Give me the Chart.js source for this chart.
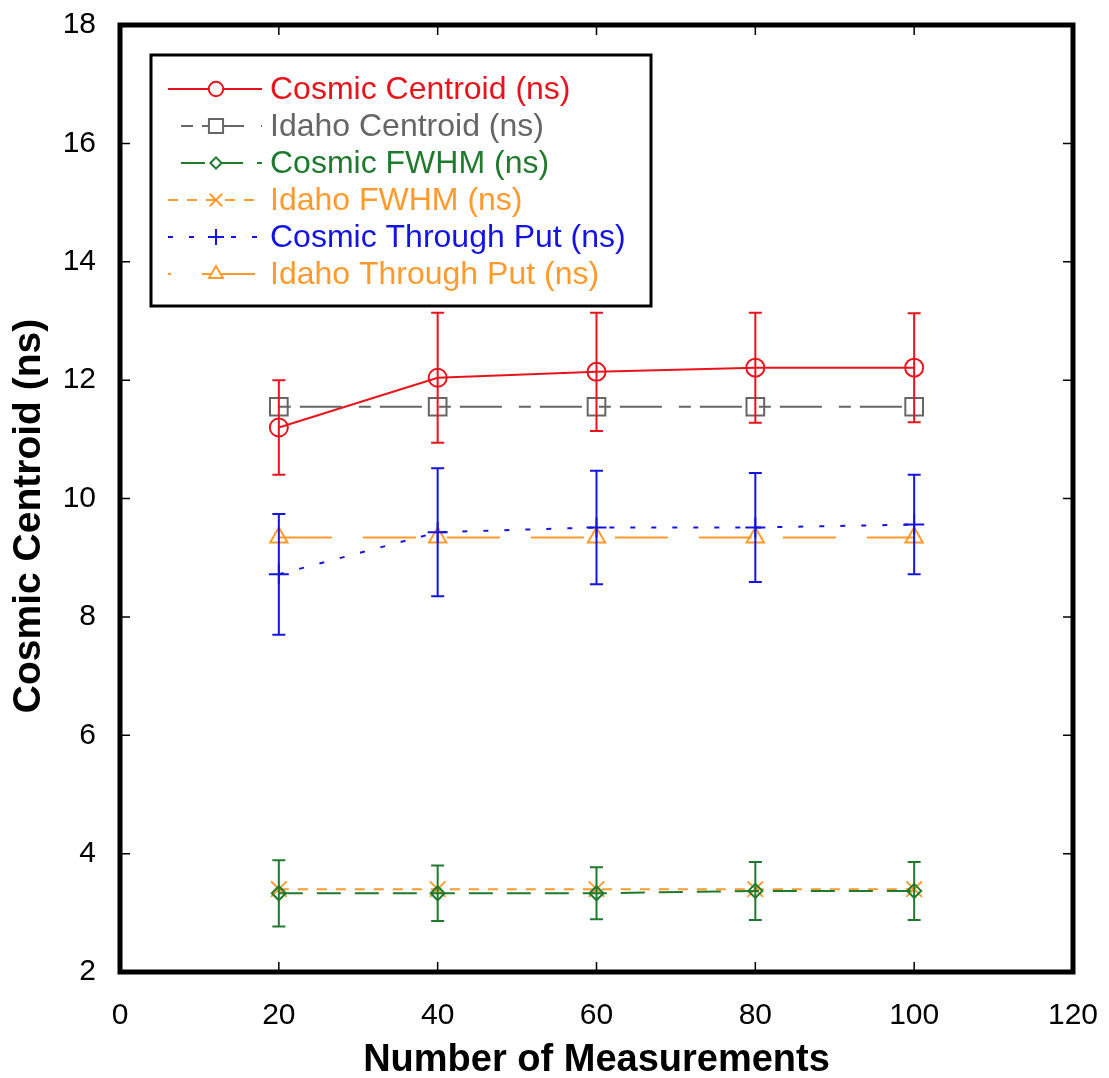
<!DOCTYPE html>
<html>
<head>
<meta charset="utf-8">
<script src="https://cdn.jsdelivr.net/npm/chart.js@4.4.1/dist/chart.umd.min.js"></script>
<style>
  html, body { margin: 0; padding: 0; background: #fff; }
  #wrap { width: 1109px; height: 1078px; }
</style>
</head>
<body>
<div id="wrap"><canvas id="chart"></canvas></div>
<script>
// values
const measurements = [20, 40, 60, 80, 100];
const cosmicCentroid = [11.2, 12.04, 12.14, 12.21, 12.21];
const cosmicCentroidErr = [0.8, 1.1, 1.0, 0.93, 0.92];
const idahoCentroid = [11.55, 11.55, 11.55, 11.55, 11.55];
const cosmicFwhm = [3.33, 3.33, 3.33, 3.37, 3.37];
const cosmicFwhmErr = [0.56, 0.47, 0.44, 0.49, 0.49];
const idahoFwhm = [3.4, 3.4, 3.4, 3.4, 3.4];
const cosmicThroughput = [8.72, 9.43, 9.51, 9.51, 9.56];
const cosmicThroughputErr = [1.02, 1.08, 0.96, 0.92, 0.84];
const idahoThroughput = [9.34, 9.34, 9.34, 9.34, 9.34];

const xTicks = [0, 20, 40, 60, 80, 100, 120];
const yTicks = [2, 4, 6, 8, 10, 12, 14, 16, 18];

const xTitle = "Number of Measurements";
const yTitle = "Cosmic Centroid (ns)";

const FONT = "Arial, 'Liberation Sans', sans-serif";

const toPoints = (vals) => vals.map((v, i) => ({ x: measurements[i], y: v }));

const series = [
  { label: "Cosmic Centroid (ns)", data: cosmicCentroid, err: cosmicCentroidErr,
    color: "#e8141c", dash: [], legendOffset: 0, point: "circle", r: 9 },
  { label: "Idaho Centroid (ns)", data: idahoCentroid, err: null,
    color: "#666666", dash: [12, 9, 42, 17], legendOffset: 67, point: "rect", r: 12.5 },
  { label: "Cosmic FWHM (ns)", data: cosmicFwhm, err: cosmicFwhmErr,
    color: "#1f7a2e", dash: [24, 14], legendOffset: 25, point: "rectRot", r: 7 },
  { label: "Idaho FWHM (ns)", data: idahoFwhm, err: null,
    color: "#ff9a2e", dash: [10, 9], legendOffset: 0, point: "crossRot", r: 11 },
  { label: "Cosmic Through Put (ns)", data: cosmicThroughput, err: cosmicThroughputErr,
    color: "#1414e0", dash: [5, 16], legendOffset: 0, point: "cross", r: 10 },
  { label: "Idaho Through Put (ns)", data: idahoThroughput, err: null,
    color: "#ff9a2e", dash: [53, 31], legendOffset: 50, point: "triangle", r: 10 }
];

const datasets = series.map(s => ({
  label: s.label,
  data: toPoints(s.data),
  err: s.err,
  legendOffset: s.legendOffset,
  borderColor: s.color,
  backgroundColor: "transparent",
  borderWidth: 2,
  borderDash: s.dash,
  pointStyle: s.point,
  pointRadius: s.r,
  pointBorderColor: s.color,
  pointBackgroundColor: "transparent",
  pointBorderWidth: 2,
  tension: 0,
  fill: false
}));

// error bars, drawn through the scales
const errorBars = {
  id: "errorBars",
  afterDatasetsDraw(chart) {
    const { ctx, scales: { x, y } } = chart;
    chart.data.datasets.forEach(ds => {
      if (!ds.err) return;
      ctx.save();
      ctx.strokeStyle = ds.borderColor;
      ctx.lineWidth = 2;
      ds.data.forEach((p, i) => {
        const px = x.getPixelForValue(p.x);
        const top = y.getPixelForValue(p.y + ds.err[i]);
        const bot = y.getPixelForValue(p.y - ds.err[i]);
        ctx.beginPath();
        ctx.moveTo(px, top); ctx.lineTo(px, bot);
        ctx.moveTo(px - 6.5, top); ctx.lineTo(px + 6.5, top);
        ctx.moveTo(px - 6.5, bot); ctx.lineTo(px + 6.5, bot);
        ctx.stroke();
      });
      ctx.restore();
    });
  }
};

// thick frame with inward ticks on all four sides, plus the y title
const frame = {
  id: "frame",
  afterDraw(chart) {
    const { ctx, chartArea: a, scales: { x, y } } = chart;
    ctx.save();
    ctx.strokeStyle = "#000";
    ctx.lineWidth = 1.5;
    ctx.beginPath();
    x.ticks.forEach(t => {
      const px = x.getPixelForValue(t.value);
      ctx.moveTo(px, a.bottom); ctx.lineTo(px, a.bottom - 10);
      ctx.moveTo(px, a.top); ctx.lineTo(px, a.top + 10);
    });
    y.ticks.forEach(t => {
      const py = y.getPixelForValue(t.value);
      ctx.moveTo(a.left, py); ctx.lineTo(a.left + 10, py);
      ctx.moveTo(a.right, py); ctx.lineTo(a.right - 10, py);
    });
    ctx.stroke();
    ctx.lineWidth = 5;
    ctx.strokeRect(a.left, a.top, a.right - a.left, a.bottom - a.top);

    // y axis title, a little below the middle as in the source
    ctx.translate(29, 516);
    ctx.rotate(-Math.PI / 2);
    ctx.fillStyle = "#000";
    ctx.font = "bold 39px " + FONT;
    ctx.textAlign = "center";
    ctx.textBaseline = "middle";
    ctx.fillText(yTitle, 0, 0);
    ctx.restore();
  }
};

// boxed legend inside the plot
const boxLegend = {
  id: "boxLegend",
  afterDraw(chart) {
    const { ctx } = chart;
    const bx = 151, by = 55, bw = 500, bh = 251;
    ctx.save();
    ctx.fillStyle = "#fff";
    ctx.fillRect(bx, by, bw, bh);
    ctx.strokeStyle = "#000";
    ctx.lineWidth = 3;
    ctx.strokeRect(bx, by, bw, bh);
    ctx.font = "32px " + FONT;
    ctx.textBaseline = "middle";
    chart.data.datasets.forEach((ds, i) => {
      const ry = 89 + i * 37;
      ctx.strokeStyle = ds.borderColor;
      ctx.lineWidth = 2;
      ctx.setLineDash(ds.borderDash);
      ctx.lineDashOffset = ds.legendOffset;
      ctx.beginPath();
      ctx.moveTo(168, ry); ctx.lineTo(262, ry);
      ctx.stroke();
      ctx.setLineDash([]);
      ctx.lineDashOffset = 0;
      ctx.fillStyle = "#fff";
      Chart.helpers.drawPoint(ctx, {
        pointStyle: ds.pointStyle, radius: ds.pointRadius * 0.8,
        borderWidth: 2, rotation: 0
      }, 216, ry);
      ctx.fillStyle = ds.borderColor;
      ctx.fillText(ds.label, 270, ry + 1);
    });
    ctx.restore();
  }
};

new Chart(document.getElementById("chart"), {
  type: "line",
  data: { datasets },
  options: {
    responsive: true,
    maintainAspectRatio: false,
    animation: false,
    layout: { padding: { top: 25, right: 36, left: 0, bottom: 0 } },
    plugins: { legend: { display: false }, tooltip: { enabled: false } },
    scales: {
      x: {
        type: "linear",
        min: xTicks[0], max: xTicks[xTicks.length - 1],
        afterFit(s) { s.height = 106; s.paddingLeft = 0; s.paddingRight = 0; },
        ticks: { stepSize: xTicks[1] - xTicks[0], color: "#000", padding: 26,
                 font: { family: FONT, size: 30 } },
        grid: { display: false, drawTicks: false },
        border: { display: false },
        title: { display: true, text: xTitle, color: "#000",
                 font: { family: FONT, size: 38, weight: "bold", lineHeight: 0.9 },
                 padding: { top: 0, bottom: 0 } }
      },
      y: {
        type: "linear",
        min: yTicks[0], max: yTicks[yTicks.length - 1],
        afterFit(s) { s.width = 120; s.paddingTop = 0; s.paddingBottom = 0; },
        ticks: { stepSize: yTicks[1] - yTicks[0], color: "#000", padding: 24,
                 font: { family: FONT, size: 30 } },
        grid: { display: false, drawTicks: false },
        border: { display: false },
        title: { display: false }
      }
    }
  },
  plugins: [errorBars, frame, boxLegend]
});
</script>
</body>
</html>
